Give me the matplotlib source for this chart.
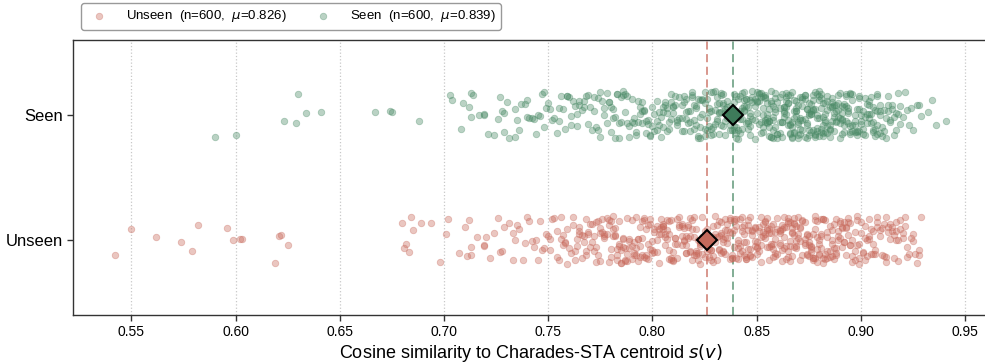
import numpy as np
import matplotlib
matplotlib.use("Agg")
import matplotlib.pyplot as plt

plt.rcParams["font.family"] = ["Liberation Sans", "DejaVu Sans"]

categories = ["Unseen", "Seen"]

# cosine similarity values (thousandths)
unseen_scores = np.array([
    542, 550, 562, 574, 579, 582, 596, 599, 602, 603, 619, 621, 622, 625,
    680, 681, 682, 683, 684, 685, 689, 694, 698, 701, 702, 707,
    710, 711, 712, 713, 713, 716, 719, 719,
    720, 722, 724, 726, 727, 728, 729,
    731, 733, 733, 734, 735, 736, 738, 739,
    740, 741, 742, 743, 744, 745, 746, 747, 748, 749,
    750, 751, 751, 752, 753, 754, 754, 755, 756, 756, 757, 757, 758, 758, 759, 759,
    760, 761, 762, 762, 763, 763, 764, 764, 765, 765, 765, 766, 766, 767, 767, 768, 768, 768, 769, 769,
    770, 770, 771, 771, 772, 772, 773, 773, 773, 774, 774, 775, 775, 775, 776, 776, 777, 777, 777, 778,
    778, 779, 779, 779,
    780, 780, 780, 781, 781, 781, 782, 782, 782, 783, 783, 783, 784, 784, 784, 785, 785, 785, 786, 786,
    786, 787, 787, 787, 788, 788, 788, 789, 789, 789,
    790, 790, 790, 791, 791, 791, 792, 792, 792, 793, 793, 793, 794, 794, 794, 795, 795, 795, 796, 796,
    796, 797, 797, 797, 798, 798, 798, 799, 799, 799,
    800, 800, 800, 801, 801, 801, 802, 802, 802, 803, 803, 803, 804, 804, 804, 805, 805, 805, 805, 806,
    806, 806, 807, 807, 807, 808, 808, 808, 808, 809, 809, 809,
    810, 810, 810, 811, 811, 811, 812, 812, 812, 813, 813, 813, 814, 814, 814, 814, 815, 815, 815, 816,
    816, 816, 816, 817, 817, 817, 818, 818, 818, 818, 819, 819, 819,
    820, 820, 820, 821, 821, 821, 821, 822, 822, 822, 823, 823, 823, 823, 824, 824, 824, 825, 825, 825,
    825, 826, 826, 826, 826, 827, 827, 827, 828, 828, 828, 828, 829, 829, 829, 829,
    830, 830, 830, 831, 831, 831, 832, 832, 832, 832, 833, 833, 833, 833, 834, 834, 834, 834, 835, 835,
    835, 835, 836, 836, 836, 836, 837, 837, 837, 837, 838, 838, 838, 838, 839, 839, 839, 839,
    840, 840, 840, 841, 841, 841, 841, 842, 842, 842, 843, 843, 843, 843, 844, 844, 844, 844, 845, 845,
    845, 845, 846, 846, 846, 846, 847, 847, 847, 847, 848, 848, 848, 848, 849, 849, 849, 849,
    850, 850, 850, 850, 851, 851, 851, 852, 852, 852, 852, 853, 853, 853, 854, 854, 854, 854, 855, 855,
    855, 855, 856, 856, 856, 856, 857, 857, 857, 857, 858, 858, 858, 858, 859, 859, 859, 859,
    860, 860, 860, 861, 861, 861, 861, 861, 862, 862, 862, 862, 863, 863, 863, 863, 864, 864, 864, 865,
    865, 865, 865, 865, 866, 866, 866, 866, 867, 867, 867, 867, 868, 868, 868, 868, 868, 869, 869, 869,
    869,
    870, 870, 870, 871, 871, 871, 871, 872, 872, 872, 873, 873, 873, 873, 874, 874, 874, 874, 875, 875,
    875, 875, 876, 876, 876, 876, 877, 877, 877, 877, 878, 878, 878, 878, 879, 879, 879, 879,
    880, 880, 880, 880, 881, 881, 881, 881, 882, 882, 882, 882, 883, 883, 883, 884, 884, 884, 884, 885,
    885, 885, 886, 886, 886, 886, 887, 887, 887, 888, 888, 888, 888, 889, 889, 889,
    890, 890, 890, 891, 891, 891, 892, 892, 892, 893, 893, 893, 894, 894, 894, 895, 895, 895, 896, 896,
    896, 897, 897, 897, 898, 898, 898, 899, 899, 899,
    900, 900, 901, 901, 902, 902, 902, 903, 903, 904, 904, 904, 905, 905, 906, 906, 906, 907, 907, 908,
    908, 908, 909, 909,
    910, 910, 911, 911, 912, 912, 912, 913, 913, 914, 914, 915, 915, 916, 916, 917, 917, 917, 918, 918,
    919, 919,
    920, 920, 921, 921, 922, 922, 923, 924, 925, 925, 926, 927, 928, 928, 929,
]) / 1000.0

seen_scores = np.array([
    590, 600, 623, 629, 630, 634, 641, 667, 674, 675, 688,
    703, 704, 708, 709,
    712, 713, 713, 714, 717, 719, 719,
    721, 724, 726, 727, 728, 729, 729,
    730, 731, 734, 734, 735, 736, 737, 739,
    740, 740, 741, 742, 743, 744, 745, 746, 747, 748, 748, 749,
    750, 751, 752, 753, 754, 755, 755, 756, 757, 758, 759, 759,
    760, 761, 761, 762, 763, 764, 764, 765, 765, 766, 767, 767, 768, 769, 769,
    770, 771, 772, 772, 773, 774, 774, 775, 775, 776, 777, 777, 778, 778, 779, 779,
    780, 780, 781, 781, 782, 782, 783, 783, 784, 784, 785, 785, 786, 786, 787, 787, 788, 788, 789, 789,
    790, 790, 791, 791, 792, 792, 793, 793, 794, 794, 795, 795, 795, 796, 796, 797, 797, 798, 798, 799,
    799,
    800, 800, 801, 801, 802, 802, 802, 803, 803, 804, 804, 805, 805, 805, 806, 806, 807, 807, 807, 808,
    808, 809, 809, 809,
    810, 810, 810, 811, 811, 812, 812, 812, 813, 813, 814, 814, 814, 815, 815, 815, 816, 816, 816, 817,
    817, 818, 818, 818, 819, 819, 819,
    820, 820, 820, 821, 821, 821, 822, 822, 822, 823, 823, 823, 823, 824, 824, 824, 825, 825, 825, 825,
    826, 826, 826, 827, 827, 827, 828, 828, 828, 828, 829, 829, 829,
    830, 830, 830, 831, 831, 831, 831, 832, 832, 832, 832, 833, 833, 833, 833, 834, 834, 834, 834, 835,
    835, 835, 835, 836, 836, 836, 836, 837, 837, 837, 837, 838, 838, 838, 838, 839, 839, 839, 839,
    840, 840, 840, 840, 841, 841, 841, 841, 842, 842, 842, 842, 843, 843, 843, 843, 844, 844, 844, 844,
    844, 845, 845, 845, 845, 846, 846, 846, 846, 847, 847, 847, 847, 847, 848, 848, 848, 848, 849, 849,
    849, 849,
    850, 850, 850, 850, 851, 851, 851, 851, 852, 852, 852, 852, 853, 853, 853, 853, 853, 854, 854, 854,
    854, 854, 855, 855, 855, 855, 855, 856, 856, 856, 856, 856, 857, 857, 857, 857, 857, 858, 858, 858,
    858, 858, 859, 859, 859, 859, 859,
    860, 860, 860, 860, 861, 861, 861, 861, 862, 862, 862, 862, 863, 863, 863, 863, 863, 864, 864, 864,
    864, 864, 865, 865, 865, 865, 865, 866, 866, 866, 866, 866, 867, 867, 867, 867, 867, 868, 868, 868,
    868, 868, 869, 869, 869, 869, 869,
    870, 870, 870, 870, 870, 871, 871, 871, 871, 871, 872, 872, 872, 872, 872, 873, 873, 873, 873, 873,
    874, 874, 874, 874, 874, 875, 875, 875, 875, 875, 876, 876, 876, 876, 876, 877, 877, 877, 877, 877,
    878, 878, 878, 878, 878, 879, 879, 879, 879, 879,
    880, 880, 880, 880, 880, 881, 881, 881, 881, 881, 882, 882, 882, 882, 882, 883, 883, 883, 883, 883,
    884, 884, 884, 884, 884, 885, 885, 885, 885, 885, 886, 886, 886, 886, 886, 887, 887, 887, 887, 888,
    888, 888, 888, 889, 889, 889, 889,
    890, 890, 890, 890, 891, 891, 891, 891, 891, 892, 892, 892, 892, 893, 893, 893, 893, 894, 894, 894,
    894, 895, 895, 895, 895, 895, 896, 896, 896, 896, 897, 897, 897, 897, 898, 898, 898, 898, 899, 899,
    899, 899,
    900, 900, 900, 901, 901, 901, 902, 902, 902, 903, 903, 903, 904, 904, 904, 904, 905, 905, 905, 906,
    906, 906, 906, 907, 907, 907, 908, 908, 908, 908, 908, 909, 909, 909, 909,
    910, 910, 911, 911, 912, 912, 913, 913, 913, 914, 914, 915, 915, 916, 916, 917, 917, 918, 918, 919,
    919,
    920, 921, 922, 923, 924, 925, 927, 928, 929,
    932, 934, 936,
    941,
]) / 1000.0

group_scores = [unseen_scores, seen_scores]
point_colors = ["#C8695B", "#4A8A66"]
diamond_colors = ["#C46A5C", "#3E7B5A"]

fig = plt.figure(figsize=(9.85, 3.64), dpi=100)
ax = fig.add_axes([73 / 985, 1 - 315 / 364, (985 - 73) / 985 + 0.003, 275 / 364])

for k, (name, vals) in enumerate(zip(categories, group_scores)):
    vals = np.sort(vals)
    n = len(vals)
    idx = np.arange(n, dtype=float)
    # deterministic hash-based vertical jitter (layout only)
    h = np.sin(idx * 12.9898 + (k + 1) * 78.233) * 43758.5453
    jitter = (h - np.floor(h) - 0.5) * 0.38
    m = vals.mean()
    ax.scatter(vals, k + jitter, s=22, color=point_colors[k], alpha=0.38,
               edgecolors=point_colors[k], linewidths=0.6, zorder=2,
               label=f"{name}  (n={n},  $\\mu$={m:.3f})")
    ax.axvline(m, color=point_colors[k], ls=(0, (4.5, 2.5)), lw=1.3, alpha=0.75, zorder=1)
    ax.plot([m], [k], marker="D", ms=10, mfc=diamond_colors[k], mec="black",
            mew=1.5, zorder=4, linestyle="none")

allv = np.concatenate(group_scores)
ax.set_xlim(allv.min() - 0.02, allv.max() + 0.02)
ax.set_ylim(-0.6, 1.6)
ax.set_yticks([0, 1])
ax.set_yticklabels(categories, fontsize=12)
xt = np.arange(0.55, 0.951, 0.05)
ax.set_xticks(xt)
ax.set_xticklabels([f"{t:.2f}" for t in xt], fontsize=10)
ax.tick_params(axis="both", length=4, width=1, color="#333333")
ax.grid(axis="x", ls=":", color="#c8c8c8", lw=0.9, zorder=0)
ax.set_axisbelow(True)
for sp in ax.spines.values():
    sp.set_color("#333333")
    sp.set_linewidth(1.0)
ax.set_xlabel("Cosine similarity to Charades-STA centroid $s(v)$", fontsize=13, labelpad=2)

fig.legend(loc="upper left", bbox_to_anchor=(81 / 985, 1 - 3 / 364), ncol=2,
           fontsize=9.5, frameon=True, borderaxespad=0, edgecolor="#808080",
           fancybox=True, handletextpad=1.0, columnspacing=1.8, markerscale=1.0)

fig.savefig("out.png", dpi=100)
